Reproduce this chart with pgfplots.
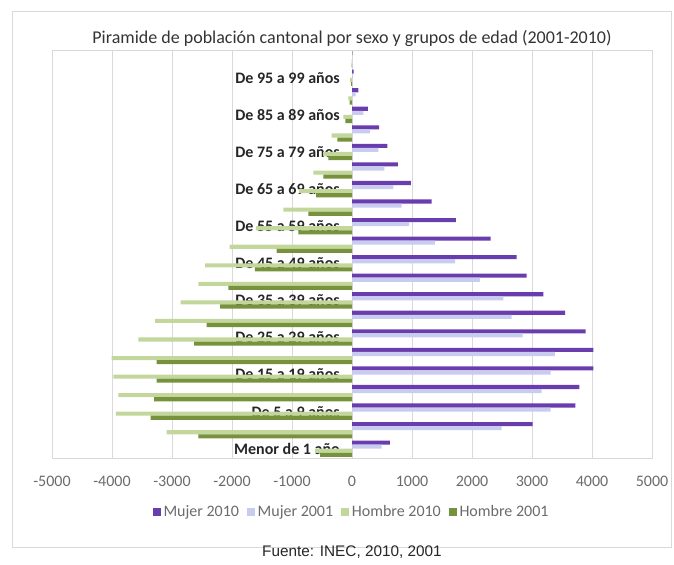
\documentclass[border=0pt]{standalone}
\usepackage{pgfplots}
\pgfplotsset{compat=1.18}
\usepackage{pgfplotstable}
\usepackage{fontspec}
\setmainfont{Carlito}
\newfontfamily\arialfont{Liberation Sans}
\definecolor{mA}{HTML}{6A3DAE}
\definecolor{mB}{HTML}{C8CDF0}
\definecolor{hA}{HTML}{C3D69B}
\definecolor{hB}{HTML}{76923C}
\definecolor{gridc}{HTML}{D9D9D9}
\definecolor{tickc}{HTML}{6B6B6B}
\definecolor{labc}{HTML}{262626}
\definecolor{titc}{HTML}{333333}

\pgfplotstableread{
i m10 m01 h10 h01
0 633 494 -620 -533
1 3011 2494 -3089 -2561
2 3722 3311 -3934 -3356
3 3789 3161 -3895 -3300
4 4022 3311 -3978 -3256
5 4022 3383 -4006 -3256
6 3895 2845 -3561 -2633
7 3550 2661 -3283 -2422
8 3189 2522 -2856 -2200
9 2911 2133 -2561 -2061
10 2745 1717 -2450 -1617
11 2311 1380 -2040 -1256
12 1730 950 -1600 -894
13 1328 828 -1145 -728
14 983 689 -880 -600
15 765 540 -645 -478
16 589 439 -480 -394
17 453 300 -339 -244
18 264 189 -144 -110
19 106 60 -60 -40
20 25 15 -30 -15
21 5 3 -8 -5
}\datatable

\begin{document}
\begin{tikzpicture}
\useasboundingbox (-39pt,-79.5pt) rectangle (466.5pt,343.5pt);
\draw[gridc, line width=0.75pt] (-29.25pt,-66.75pt) rectangle (464.25pt,334.5pt);
\begin{axis}[
  at={(0pt,0pt)}, anchor=south west,
  scale only axis, width=450pt, height=306pt,
  xmin=-5000, xmax=5000, ymin=-0.5, ymax=21.5,
  xtick={-5000,-4000,-3000,-2000,-1000,0,1000,2000,3000,4000,5000},
  xticklabels={-5000,-4000,-3000,-2000,-1000,0,1000,2000,3000,4000,5000},
  ytick={0,2,4,6,8,10,12,14,16,18,20},
  yticklabels={Menor de 1 año, De 5 a 9 años, De 15 a 19 años, De 25 a 29 años, De 35 a 39 años, De 45 a 49 años, De 55 a 59 años, De 65 a 69 años, De 75 a 79 años, De 85 a 89 años, De 95 a 99 años},
  xmajorgrids, grid style={gridc, line width=0.6pt},
  axis line style={gridc, line width=0.6pt},
  major tick length=0pt, tick style={draw=none},
  xticklabel style={anchor=center, yshift=-17.25pt, font=\fontsize{12}{14}\selectfont, text=tickc},
  yticklabel style={anchor=east, inner sep=0pt, xshift=216pt, font=\bfseries\fontsize{12}{14}\selectfont, text=labc},
  xbar, bar width=0.22,
  legend columns=4,
  legend style={at={(0.5,0)}, anchor=center, yshift=-40.5pt, draw=none, fill=none,
    font=\fontsize{12}{14}\selectfont, text=tickc,
    /tikz/every even column/.append style={column sep=4pt},
    inner sep=0pt},
  legend image code/.code={\fill[#1,draw=none] (0pt,-3pt) rectangle (6pt,3pt);},
  clip=false,
]
\addplot[fill=mA, draw=none, bar shift=0.33] table[x=m10,y=i]{\datatable};
\addplot[fill=mB, draw=none, bar shift=0.11] table[x=m01,y=i]{\datatable};
\addplot[fill=hA, draw=none, bar shift=-0.11] table[x=h10,y=i]{\datatable};
\addplot[fill=hB, draw=none, bar shift=-0.33] table[x=h01,y=i]{\datatable};
\legend{Mujer 2010, Mujer 2001, Hombre 2010, Hombre 2001}
\node[font=\fontsize{13.5}{15}\selectfont, text=titc, anchor=center] at (rel axis cs:0.5,1) [yshift=9pt] {Piramide de población cantonal por sexo y grupos de edad (2001-2010)};
\end{axis}
\node[font=\arialfont\fontsize{11.5}{13}\selectfont, text=labc] at (225pt,-70.5pt) {Fuente: INEC, 2010, 2001};
\end{tikzpicture}
\end{document}
